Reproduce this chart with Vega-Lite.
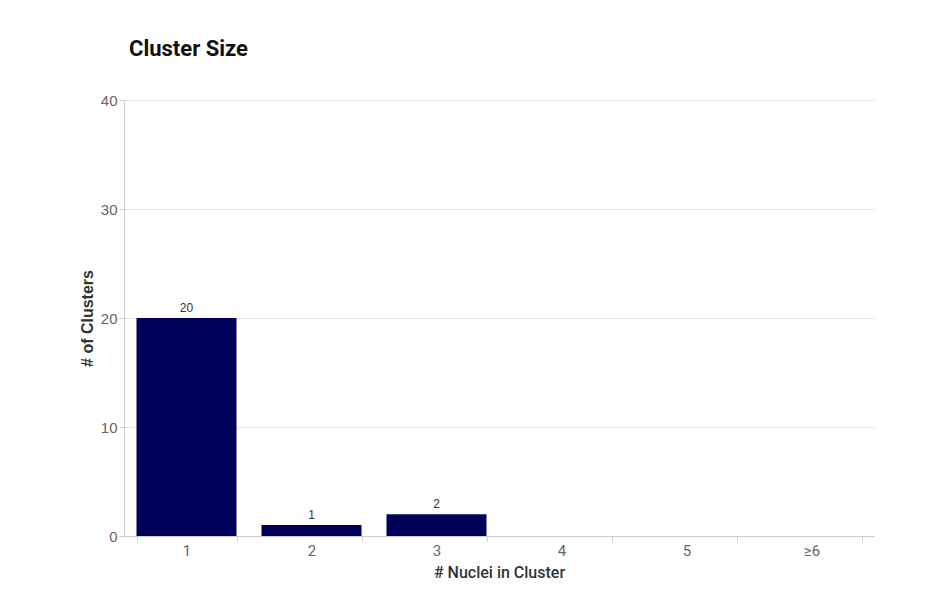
{
  "$schema": "https://vega.github.io/schema/vega-lite/v6.json",
  "autosize": {"type": "none"},
  "width": 750,
  "height": 436,
  "padding": {"left": 124, "top": 100, "right": 54, "bottom": 53},
  "background": "white",
  "title": {
    "text": "Cluster Size",
    "anchor": "start",
    "frame": "group",
    "dx": 5,
    "offset": 32,
    "font": "Roboto",
    "fontSize": 22,
    "fontWeight": "bold",
    "color": "#111111"
  },
  "data": {
    "values": [
      {"nuclei": "1", "clusters": 20},
      {"nuclei": "2", "clusters": 1},
      {"nuclei": "3", "clusters": 2},
      {"nuclei": "4", "clusters": 0},
      {"nuclei": "5", "clusters": 0},
      {"nuclei": "≥6", "clusters": 0}
    ]
  },
  "encoding": {
    "x": {
      "field": "nuclei",
      "type": "nominal",
      "sort": ["1", "2", "3", "4", "5", "≥6"],
      "scale": {"paddingInner": 0.2, "paddingOuter": 0.1},
      "axis": {
        "title": "# Nuclei in Cluster",
        "labelAngle": 0,
        "tickBand": "extent",
        "labelFont": "Roboto",
        "labelFontSize": 15,
        "labelColor": "#666666",
        "labelPadding": 2,
        "tickSize": 5,
        "tickColor": "#cccccc",
        "domainColor": "#cccccc",
        "titleFont": "Roboto",
        "titleFontSize": 16,
        "titleFontWeight": 500,
        "titleColor": "#333333",
        "titlePadding": 6
      }
    },
    "y": {
      "field": "clusters",
      "type": "quantitative",
      "scale": {"domain": [0, 40]},
      "axis": {
        "title": "# of Clusters",
        "values": [0, 10, 20, 30, 40],
        "labelFont": "Liberation Sans",
        "labelFontSize": 15,
        "labelColor": "#666666",
        "labelPadding": 2,
        "tickSize": 5,
        "tickColor": "#cccccc",
        "domainColor": "#cccccc",
        "gridColor": "#e6e6e6",
        "titleFont": "Liberation Sans",
        "titleFontSize": 16,
        "titleFontWeight": "bold",
        "titleColor": "#333333",
        "titlePadding": 5
      }
    }
  },
  "layer": [
    {"mark": {"type": "bar", "color": "#000059"}},
    {
      "transform": [{"filter": "datum.clusters > 0"}],
      "mark": {
        "type": "text",
        "baseline": "alphabetic",
        "dy": -6,
        "font": "Liberation Sans",
        "fontSize": 12,
        "color": "#333333"
      },
      "encoding": {"text": {"field": "clusters", "type": "quantitative"}}
    }
  ],
  "config": {"view": {"stroke": null}}
}
